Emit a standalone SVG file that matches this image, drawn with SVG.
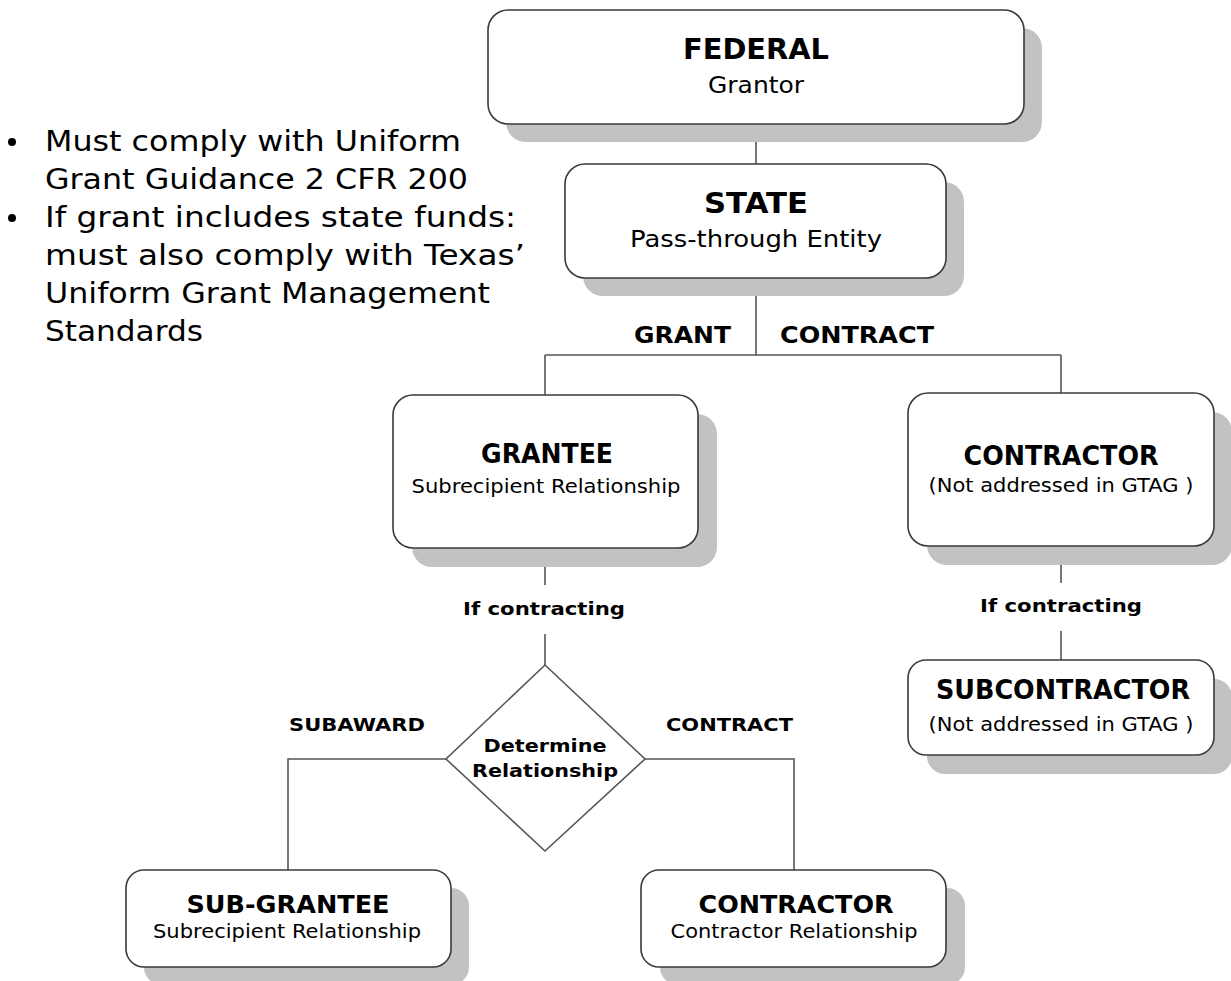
<svg xmlns="http://www.w3.org/2000/svg" width="1231" height="981" viewBox="0 0 1231 981">
  <defs>
    <style>
      .box { fill: #ffffff; stroke: #3a3a3a; stroke-width: 1.6; }
      .shadow { fill: #c2c2c2; stroke: none; }
      .line { fill: none; stroke: #555555; stroke-width: 1.6; }
      text { font-family: "DejaVu Sans", Verdana, sans-serif; fill: #000000; }
      .title { font-weight: bold; font-size: 26px; text-anchor: middle; }
      .sub { font-size: 20px; text-anchor: middle; }
      .lbl { font-weight: bold; font-size: 23px; }
      .small { font-weight: bold; font-size: 18px; }
      .note { font-size: 28px; }
    </style>
  </defs>

  <rect width="1231" height="981" fill="#ffffff"/>

  <!-- connectors -->
  <g id="connectors">
    <path class="line" d="M756 124 V164"/>
    <path class="line" d="M756 278 V355 M545 355 H1061 M545 355 V395 M1061 355 V393"/>
    <path class="line" d="M545 548 V585 M545 634 V665"/>
    <path class="line" d="M1061 546 V583 M1061 631 V660"/>
    <path class="line" d="M446 759 H288 V870 M645 759 H794 V870"/>
    <text class="lbl" x="634" y="343" textLength="97" lengthAdjust="spacingAndGlyphs">GRANT</text>
    <text class="lbl" x="780" y="343" textLength="154" lengthAdjust="spacingAndGlyphs">CONTRACT</text>
    <text class="small" x="463" y="615" textLength="162" lengthAdjust="spacingAndGlyphs">If contracting</text>
    <text class="small" x="980" y="612" textLength="162" lengthAdjust="spacingAndGlyphs">If contracting</text>
    <text class="small" x="289" y="731" textLength="136" lengthAdjust="spacingAndGlyphs">SUBAWARD</text>
    <text class="small" x="666" y="731" textLength="127" lengthAdjust="spacingAndGlyphs">CONTRACT</text>
  </g>

  <!-- notes -->
  <g id="notes">
    <circle cx="12" cy="142" r="4" fill="#000"/>
    <circle cx="12" cy="218" r="4" fill="#000"/>
    <text class="note" x="45" y="151" textLength="416" lengthAdjust="spacingAndGlyphs">Must comply with Uniform</text>
    <text class="note" x="45" y="189" textLength="423" lengthAdjust="spacingAndGlyphs">Grant Guidance 2 CFR 200</text>
    <text class="note" x="45" y="227" textLength="471" lengthAdjust="spacingAndGlyphs">If grant includes state funds:</text>
    <text class="note" x="45" y="265" textLength="480" lengthAdjust="spacingAndGlyphs">must also comply with Texas’</text>
    <text class="note" x="45" y="303" textLength="445" lengthAdjust="spacingAndGlyphs">Uniform Grant Management</text>
    <text class="note" x="45" y="341" textLength="158" lengthAdjust="spacingAndGlyphs">Standards</text>
  </g>

  <g id="federal">
    <rect class="shadow" x="506" y="28" width="536" height="114" rx="20"/>
    <rect class="box" x="488" y="10" width="536" height="114" rx="20"/>
    <text class="title" x="756" y="59" style="font-size:28px" textLength="146" lengthAdjust="spacingAndGlyphs">FEDERAL</text>
    <text class="sub" x="756" y="93" style="font-size:23px" textLength="96" lengthAdjust="spacingAndGlyphs">Grantor</text>
  </g>

  <g id="state">
    <rect class="shadow" x="583" y="182" width="381" height="114" rx="20"/>
    <rect class="box" x="565" y="164" width="381" height="114" rx="20"/>
    <text class="title" x="756" y="213" style="font-size:28px" textLength="104" lengthAdjust="spacingAndGlyphs">STATE</text>
    <text class="sub" x="756" y="247" style="font-size:23px" textLength="252" lengthAdjust="spacingAndGlyphs">Pass-through Entity</text>
  </g>

  <g id="grantee">
    <rect class="shadow" x="412" y="414" width="305" height="153" rx="20"/>
    <rect class="box" x="393" y="395" width="305" height="153" rx="20"/>
    <text class="title" x="547" y="463" textLength="132" lengthAdjust="spacingAndGlyphs">GRANTEE</text>
    <text class="sub" x="546" y="493" textLength="269" lengthAdjust="spacingAndGlyphs">Subrecipient Relationship</text>
  </g>

  <g id="contractor">
    <rect class="shadow" x="927" y="412" width="305" height="153" rx="20"/>
    <rect class="box" x="908" y="393" width="306" height="153" rx="20"/>
    <text class="title" x="1061" y="465" textLength="195" lengthAdjust="spacingAndGlyphs">CONTRACTOR</text>
    <text class="sub" x="1061" y="492" textLength="265" lengthAdjust="spacingAndGlyphs">(Not addressed in GTAG )</text>
  </g>

  <g id="subcontractor">
    <rect class="shadow" x="927" y="679" width="305" height="95" rx="18"/>
    <rect class="box" x="908" y="660" width="306" height="95" rx="18"/>
    <text class="title" x="1063" y="699" textLength="254" lengthAdjust="spacingAndGlyphs">SUBCONTRACTOR</text>
    <text class="sub" x="1061" y="731" textLength="265" lengthAdjust="spacingAndGlyphs">(Not addressed in GTAG )</text>
  </g>

  <g id="determine">
    <path class="box" d="M545 665 L645 759 L545 851 L446 759 Z" style="stroke:#555555"/>
    <text class="small" x="545" y="752" text-anchor="middle" textLength="123" lengthAdjust="spacingAndGlyphs">Determine</text>
    <text class="small" x="545" y="777" text-anchor="middle" textLength="146" lengthAdjust="spacingAndGlyphs">Relationship</text>
  </g>

  <g id="subgrantee">
    <rect class="shadow" x="144" y="888" width="325" height="97" rx="18"/>
    <rect class="box" x="126" y="870" width="325" height="97" rx="18"/>
    <text class="title" x="288" y="913" style="font-size:25px" textLength="203" lengthAdjust="spacingAndGlyphs">SUB-GRANTEE</text>
    <text class="sub" x="287" y="938" textLength="268" lengthAdjust="spacingAndGlyphs">Subrecipient Relationship</text>
  </g>

  <g id="contractor-bottom">
    <rect class="shadow" x="660" y="888" width="305" height="97" rx="18"/>
    <rect class="box" x="641" y="870" width="305" height="97" rx="18"/>
    <text class="title" x="796" y="913" style="font-size:25px" textLength="195" lengthAdjust="spacingAndGlyphs">CONTRACTOR</text>
    <text class="sub" x="794" y="938" textLength="247" lengthAdjust="spacingAndGlyphs">Contractor Relationship</text>
  </g>
</svg>
